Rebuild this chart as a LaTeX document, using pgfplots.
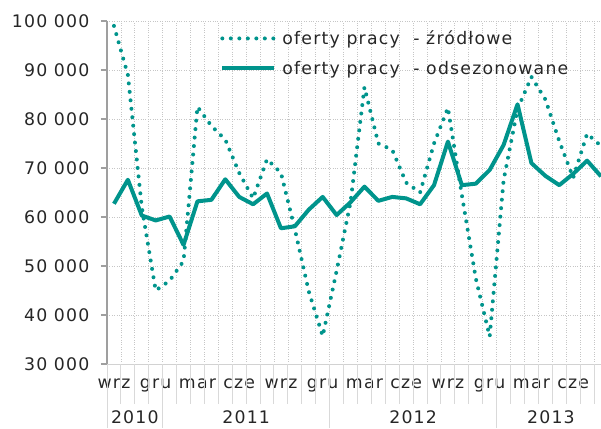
\documentclass[border=0pt]{standalone}
\usepackage{pgfplots}
\pgfplotsset{compat=1.18}
\usepackage{fontspec}
\setmainfont{DejaVu Sans}[LetterSpace=7]
\definecolor{tealc}{RGB}{0,148,140}
\definecolor{txt}{RGB}{38,38,38}
\newcommand\fs{\fontsize{17.3}{20}\selectfont}
\begin{document}
\begin{tikzpicture}
\useasboundingbox (0,0) rectangle (601pt,428pt);
\begin{axis}[
 at={(107pt,64pt)}, anchor=south west,
 scale only axis, width=494pt, height=343pt,
 xmin=-0.5, xmax=35, ymin=30000, ymax=100000,
 axis x line*=bottom, axis y line*=left,
 x axis line style={draw=gray!35, line width=1pt},
 y axis line style={draw=gray!75, line width=1.2pt},
 xtick={0,3,...,33},
 xticklabels={wrz,gru,mar,cze,wrz,gru,mar,cze,wrz,gru,mar,cze},
 minor xtick={-0.5,0.5,...,34.5},
 xminorgrids=true, ymajorgrids=true,
 minor grid style={gray!45, dotted, line width=0.8pt},
 major grid style={gray!45, dotted, line width=0.8pt},
 xtick style={draw=none}, minor tick length=0pt,
 ytick={30000,40000,...,100000},
 yticklabels={30 000,40 000,50 000,60 000,70 000,80 000,90 000,100 000},
 scaled y ticks=false,
 ytick style={draw=gray!75, line width=1.2pt},
 tick align=outside, major tick length=6pt,
 tick label style={font=\fs, text=txt},
 yticklabel style={xshift=-8pt},
 xticklabel style={yshift=-5pt},
 clip mode=individual,
 legend style={at={(0.229,0.978)}, anchor=north west, draw=none, fill=none, font=\fs, text=txt, row sep=11pt, inner sep=0pt,
   /tikz/every odd column/.style={column sep=4pt}},
 legend cell align=left,
 legend image code/.code={\draw[#1] (0pt,0pt) -- (52pt,0pt);},
]
\addplot[tealc, line width=4pt, line cap=round, dash pattern=on 0pt off 8.5pt] coordinates {
(0,99000) (1,89000) (2,62000) (3,45000) (4,47000) (5,51000) (6,82500) (7,78600) (8,75800) (9,69000)
(10,63800) (11,71800) (12,69000) (13,57500) (14,44800) (15,35700) (16,49000) (17,63000) (18,86500) (19,75000)
(20,73700) (21,67000) (22,65000) (23,75000) (24,82300) (25,64500) (26,47500) (27,35600) (28,67500) (29,82000)
(30,88600) (31,84000) (32,75500) (33,68000) (34,77000) (35,74500)};
\addlegendentry{oferty pracy \ - źródłowe}
\addplot[tealc, line width=4pt, line join=round] coordinates {
(0,62700) (1,67600) (2,60300) (3,59300) (4,60100) (5,54300) (6,63200) (7,63500) (8,67700) (9,64100)
(10,62600) (11,64800) (12,57700) (13,58100) (14,61500) (15,64100) (16,60400) (17,63000) (18,66200) (19,63300)
(20,64100) (21,63800) (22,62600) (23,66500) (24,75400) (25,66500) (26,66800) (27,69600) (28,74700) (29,83000)
(30,71000) (31,68400) (32,66500) (33,68800) (34,71500) (35,68300)};
\addlegendentry{oferty pracy \ - odsezonowane}
\pgfplotsinvokeforeach{-0.5,0.5,...,34.5}{\draw[gray!30, line width=1pt] (axis cs:#1,30000) -- ++(0pt,-40pt);}
\pgfplotsinvokeforeach{-0.5,3.5,15.5,27.5}{\draw[gray!30, line width=1pt] (axis cs:#1,30000) -- ++(0pt,-64pt);}
\node[font=\fs, text=txt] at (axis cs:1.5,30000) [yshift=-53pt] {2010};
\node[font=\fs, text=txt] at (axis cs:9.5,30000) [yshift=-53pt] {2011};
\node[font=\fs, text=txt] at (axis cs:21.5,30000) [yshift=-53pt] {2012};
\node[font=\fs, text=txt] at (axis cs:31.4,30000) [yshift=-53pt] {2013};
\end{axis}
\end{tikzpicture}
\end{document}
